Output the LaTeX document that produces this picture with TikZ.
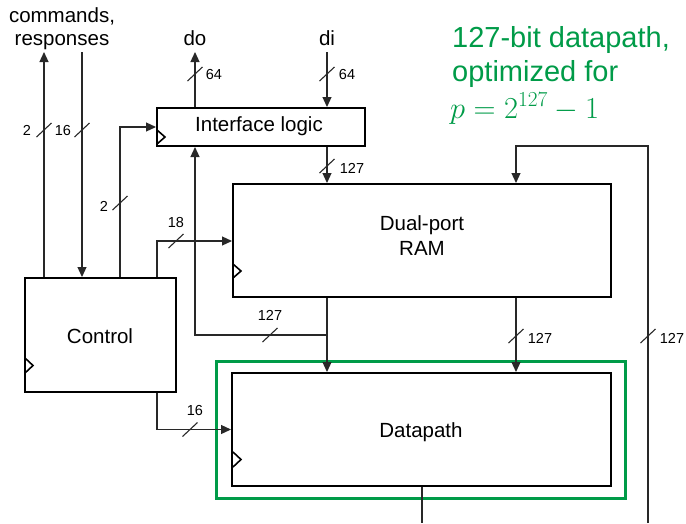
\documentclass[tikz,border=0pt]{standalone}
\usepackage{fix-cm}
\usepackage{fontspec}
\setmainfont{Liberation Sans}
\usetikzlibrary{arrows.meta}
\definecolor{dpgreen}{RGB}{0,155,72}
\definecolor{wire}{RGB}{40,40,40}
\tikzset{
  box/.style={draw=black, line width=2pt, rectangle, inner sep=0pt},
  conn/.style={draw=wire, line width=1.2pt, -{Triangle[length=10pt,width=9pt]}},
  plainwire/.style={draw=wire, line width=1.2pt},
  bus/.style={draw=wire, line width=1.1pt},
  clkmark/.style={draw=black, line width=1.6pt, line join=miter},
  lbl/.style={inner sep=0pt, anchor=base, font=\fontsize{20.5}{24}\selectfont},
  small/.style={inner sep=0pt, anchor=base, font=\fontsize{14.5}{17}\selectfont},
  gtext/.style={inner sep=0pt, anchor=base west, text=dpgreen, font=\fontsize{29}{34}\selectfont}
}
\begin{document}
\begin{tikzpicture}[x=1pt,y=-1pt]
\useasboundingbox (0,0) rectangle (686,523);
% boxes
\node[box, minimum width=208pt, minimum height=38pt] (ifl) at (261,127) {};
\node[box, minimum width=378pt, minimum height=113pt] (ram) at (422,240.5) {};
\node[box, minimum width=151pt, minimum height=114pt] (ctrl) at (100.5,335) {};
\node[box, minimum width=379pt, minimum height=113pt] (dp) at (421.5,429.5) {};
\node[draw=dpgreen, line width=3pt, rectangle, minimum width=409pt, minimum height=137pt] (core) at (420.5,429.5) {};
% box texts
\node[lbl] (ifltext) at (259,131) {Interface logic};
\node[lbl] (ramtext1) at (422,230) {Dual-port};
\node[lbl] (ramtext2) at (422,255) {RAM};
\node[lbl] (ctrltext) at (100,343) {Control};
\node[lbl] (dptext) at (421,437) {Datapath};
% clock marks
\draw[clkmark] (157,130) -- (165,137) -- (157,144);
\draw[clkmark] (233,264) -- (241,271) -- (233,278);
\draw[clkmark] (25,358) -- (33,365.5) -- (25,373);
\draw[clkmark] (233,452) -- (241,459.5) -- (233,467);
% external labels
\node[lbl] (cmdlbl1) at (62,22) {commands,};
\node[lbl] (cmdlbl2) at (62,45) {responses};
\node[lbl] (dolbl) at (195,45) {do};
\node[lbl] (dilbl) at (327,45) {di};
% coordinates
\coordinate (cmdout) at (44,52);
\coordinate (cmdin) at (82,52);
\coordinate (doout) at (195,52);
\coordinate (diin) at (327,52);
\coordinate (clkx) at (120,127);
\coordinate (addr) at (157,241);
\coordinate (br) at (327,335);
\coordinate (brl) at (195,335);
\coordinate (rout) at (516,0);
\coordinate (fbtop) at (648,146);
\coordinate (fbbot) at (648,523);
\coordinate (dpout) at (422,523);
\coordinate (ctl16) at (157,429.5);
% connectors
\draw[conn] (cmdout |- ctrl.north) -- (cmdout);
\draw[conn] (cmdin) -- (cmdin |- ctrl.north);
\draw[conn] (clkx |- ctrl.north) -- (clkx) -- (ifl.west);
\draw[conn] (doout |- ifl.north) -- (doout);
\draw[conn] (diin) -- (diin |- ifl.north);
\draw[conn] (diin |- ifl.south) -- (diin |- ram.north);
\draw[conn] (addr |- ctrl.north) -- (addr) -- (ram.west |- addr);
\draw[conn] (diin |- ram.south) -- (diin |- dp.north);
\draw[conn] (br) -- (brl) -- (brl |- ifl.south);
\draw[conn] (rout |- ram.south) -- (rout |- dp.north);
\draw[plainwire] (dpout |- dp.south) -- (dpout);
\draw[conn] (fbbot) -- (fbtop) -- (rout |- fbtop) -- (rout |- ram.north);
\draw[conn] (ctl16 |- ctrl.south) -- (ctl16) -- (dp.west);
% bus width slashes
\foreach \p in {(44,130),(82,130),(120,203),(176,241),(195,74),(327,74),(327,166),(270,335),(516,336),(648,336),(190,429.5)}
  \draw[bus] \p ++(-7.5,7) -- ++(15,-14);
% bus width labels
\node[small] (w1) at (27,135) {2};
\node[small] (w2) at (63,135) {16};
\node[small] (w3) at (104,211) {2};
\node[small] (w4) at (176,227) {18};
\node[small] (w5) at (214,79) {64};
\node[small] (w6) at (347,79) {64};
\node[small] (w7) at (352,173) {127};
\node[small] (w8) at (270,320) {127};
\node[small] (w9) at (540,343) {127};
\node[small] (w10) at (672,343) {127};
\node[small] (w11) at (195,415) {16};
% green annotation
\node[gtext] (g1) at (452,47) {127-bit datapath,};
\node[gtext] (g2) at (452,81) {optimized for};
\node[gtext, font=\fontsize{30.5}{36}\selectfont] (g3) at (450,118) {$p = 2^{127} - 1$};
\end{tikzpicture}
\end{document}
